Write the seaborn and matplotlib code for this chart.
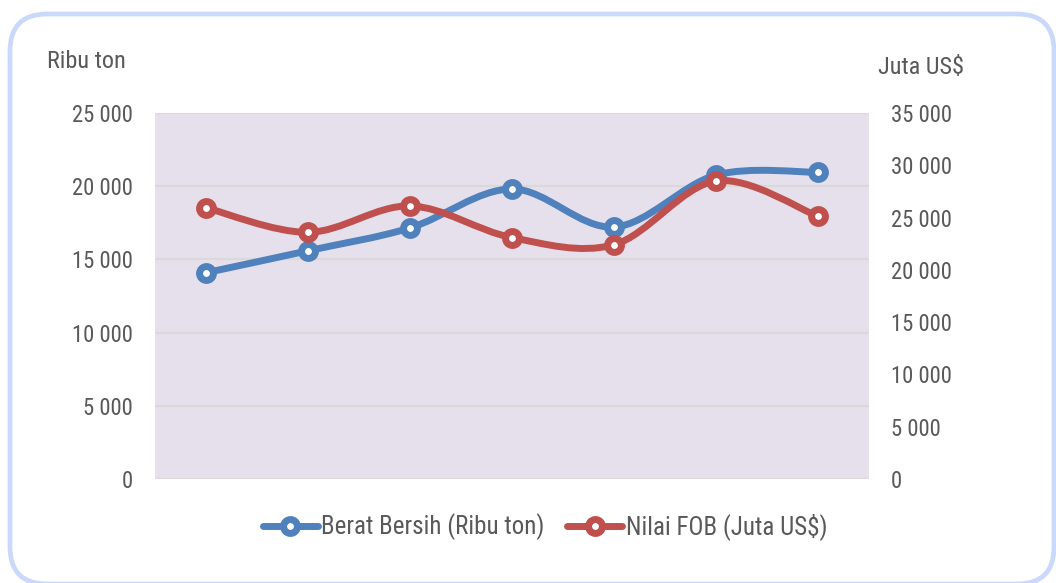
import matplotlib
matplotlib.use("Agg")
import matplotlib.pyplot as plt
import seaborn as sns
import numpy as np
import pandas as pd
from matplotlib.path import Path
from matplotlib.patches import PathPatch, FancyBboxPatch
from matplotlib.lines import Line2D
from matplotlib.ticker import FuncFormatter, MultipleLocator
from matplotlib import font_manager as fm

# ---- data ----
categories = ["1", "2", "3", "4", "5", "6", "7"]
berat_bersih = [14090, 15590, 17150, 19810, 17210, 20760, 20950]   # Ribu ton (left axis)
nilai_fob = [25940, 23590, 26110, 23080, 22410, 28500, 25120]      # Juta US$ (right axis)
left_label = "Ribu ton"
right_label = "Juta US$"
series_names = ["Berat Bersih (Ribu ton)", "Nilai FOB (Juta US$)"]

BLUE = "#4F81BD"
RED = "#C0504D"
TXT = "#595959"

sns.set_theme(style="white")
plt.rcParams["font.family"] = ["Liberation Sans", "DejaVu Sans"]

# look for a condensed sans font (like Arial Narrow)
cond = None
for f in fm.fontManager.ttflist:
    nm = f.name.lower()
    st = str(f.stretch).lower()
    if f.style == "normal" and str(f.weight) in ("400", "normal", "regular") and (
            "narrow" in nm or "condensed" in nm or "condensed" in st):
        if "sans" in nm or "roboto" in nm or "liberation" in nm or "noto" in nm or "open" in nm:
            cond = f.fname
            if "liberation" in nm or "arial" in nm:
                break
if cond:
    FS_TICK, FS_LAB, FS_LEG = 16.3, 17.5, 18
else:
    FS_TICK, FS_LAB, FS_LEG = 14.5, 15, 15


def fprop(size):
    if cond:
        p = fm.FontProperties(fname=cond)
        p.set_size(size)
        return p
    return fm.FontProperties(family=["Liberation Sans", "DejaVu Sans"], size=size)


W, H = 1056, 583
fig = plt.figure(figsize=(W / 100, H / 100), dpi=100)

# rounded border
border = FancyBboxPatch((10 / W, 1 - 584 / H), (1054 - 10) / W, (584 - 14) / H,
                        boxstyle="round,pad=0,rounding_size=0.035",
                        transform=fig.transFigure, fill=False,
                        edgecolor="#C9D8FB", linewidth=3.4, mutation_aspect=W / H)
fig.patches.append(border)

L, R, T, B = 155, 869, 113, 479
ax = fig.add_axes([L / W, 1 - B / H, (R - L) / W, (B - T) / H])
ax.set_facecolor("#E6E0EC")
ax2 = ax.twinx()
ax2.patch.set_visible(False)

df = pd.DataFrame({"idx": np.arange(len(categories)), "cat": categories,
                   "berat": berat_bersih, "fob": nilai_fob})


def smooth_path(xs, ys):
    xs = np.asarray(xs, float)
    ys = np.asarray(ys, float)
    pts = np.column_stack([xs, ys])
    n = len(pts)
    verts = [pts[0]]
    codes = [Path.MOVETO]
    for i in range(n - 1):
        p0 = pts[i - 1] if i > 0 else pts[i]
        p1 = pts[i]
        p2 = pts[i + 1]
        p3 = pts[i + 2] if i + 2 < n else pts[i + 1]
        c1 = p1 + (p2 - p0) / 6.0
        c2 = p2 - (p3 - p1) / 6.0
        verts += [c1, c2, p2]
        codes += [Path.CURVE4] * 3
    return Path(verts, codes)


lw = 5.0
ms = 10
mew = 5.0
for a, col, c in [(ax, "berat", BLUE), (ax2, "fob", RED)]:
    patch = PathPatch(smooth_path(df["idx"], df[col]), facecolor="none",
                      edgecolor=c, linewidth=lw, capstyle="round", joinstyle="round",
                      transform=a.transData, zorder=3)
    a.add_patch(patch)
    sns.scatterplot(data=df, x="idx", y=col, ax=a, marker="o", s=ms * ms,
                    facecolor="white", edgecolor=c, linewidth=mew, zorder=4,
                    legend=False)

ax.set_xlim(-0.5, len(categories) - 0.5)
ax.set_ylim(0, 25000)
ax2.set_ylim(0, 35000)
ax.yaxis.set_major_locator(MultipleLocator(5000))
ax2.yaxis.set_major_locator(MultipleLocator(5000))
fmt = FuncFormatter(lambda v, p: f"{int(v):,}".replace(",", " "))
ax.yaxis.set_major_formatter(fmt)
ax2.yaxis.set_major_formatter(fmt)

ax.set_xticks([])
ax.set_xlabel("")
ax.set_ylabel("")
ax2.set_ylabel("")
ax.grid(axis="y", color="#D9D9D9", linewidth=1.5)
ax.set_axisbelow(True)
for a in (ax, ax2):
    for s in a.spines.values():
        s.set_visible(False)
ax.tick_params(axis="y", length=0, pad=16, labelcolor=TXT)
ax2.tick_params(axis="y", length=0, pad=16, labelcolor=TXT)
for lab in ax.get_yticklabels() + ax2.get_yticklabels():
    lab.set_fontproperties(fprop(FS_TICK))

fig.text(47 / W, 1 - 62 / H, left_label, ha="left", va="center", color=TXT,
         fontproperties=fprop(FS_LAB))
fig.text(878 / W, 1 - 67 / H, right_label, ha="left", va="center", color=TXT,
         fontproperties=fprop(FS_LAB))

handles = [Line2D([], [], color=BLUE, lw=lw, marker="o", markersize=ms,
                  markerfacecolor="white", markeredgecolor=BLUE, markeredgewidth=mew,
                  solid_capstyle="round"),
           Line2D([], [], color=RED, lw=lw, marker="o", markersize=ms,
                  markerfacecolor="white", markeredgecolor=RED, markeredgewidth=mew,
                  solid_capstyle="round")]
leg = fig.legend(handles, series_names, loc="center", bbox_to_anchor=(545 / W, 1 - 527 / H),
                 ncol=2, frameon=False, prop=fprop(FS_LEG), handlelength=2.2,
                 handletextpad=0.15, columnspacing=0.9)
for t in leg.get_texts():
    t.set_color(TXT)

fig.savefig("out.png", dpi=100, facecolor="white")
